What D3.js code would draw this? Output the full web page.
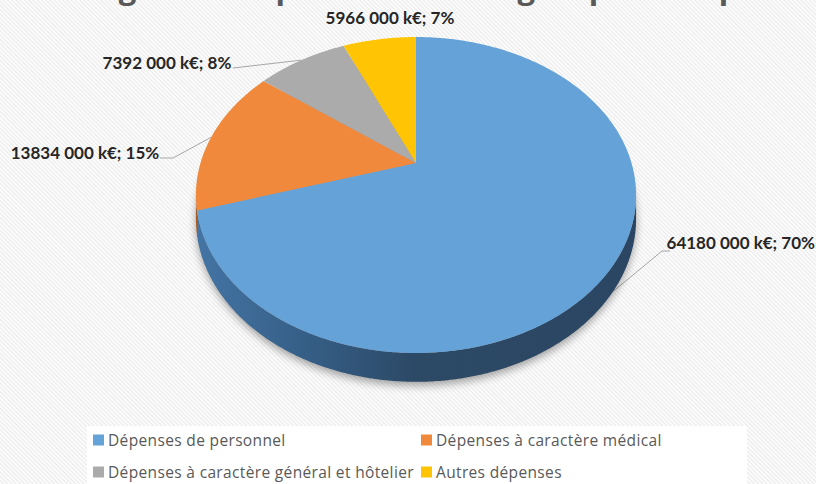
<!DOCTYPE html>
<html>
<head>
<meta charset="utf-8">
<script src="https://cdn.jsdelivr.net/npm/d3@7"></script>
<style>
  html, body { margin: 0; padding: 0; background: #fff; }
  svg { display: block; }
</style>
</head>
<body>
<div id="chart"></div>
<script>
const categories = [
  "Dépenses de personnel",
  "Dépenses à caractère médical",
  "Dépenses à caractère général et hôtelier",
  "Autres dépenses",
];
const values = [64180000, 13834000, 7392000, 5966000];
const colors = ["#65a2d7", "#f0893b", "#ababab", "#ffc404"];
const sideColors = ["#2e4d6c", "#a65a22", "#777777", "#b38a00"];
const title = "Budget des dépenses selon le groupe de dépenses";

const width = 816, height = 484;
// projected pie: centre, radii, perspective and thickness
const cx = 416, cy = 163, A = 215.5, B = 151.5, P = 0.2026, DEPTH = 23;

const svg = d3.select("#chart").append("svg")
  .attr("width", width).attr("height", height)
  .attr("viewBox", `0 0 ${width} ${height}`);

const defs = svg.append("defs");
const pat = defs.append("pattern")
  .attr("id", "stripes").attr("patternUnits", "userSpaceOnUse")
  .attr("width", 6).attr("height", 3)
  .attr("patternTransform", "rotate(45)");
pat.append("rect").attr("width", 6).attr("height", 3).attr("fill", "#ffffff");
pat.append("rect").attr("width", 6).attr("height", 1.4).attr("fill", "#ebebeb");

defs.append("filter").attr("id", "blur")
  .attr("x", "-20%").attr("y", "-20%").attr("width", "140%").attr("height", "140%")
  .append("feGaussianBlur").attr("stdDeviation", 4);

const sideGrad = defs.append("linearGradient")
  .attr("id", "sideGrad").attr("gradientUnits", "userSpaceOnUse")
  .attr("x1", cx - A * 1.05).attr("x2", cx + A * 1.05).attr("y1", 0).attr("y2", 0);
sideGrad.selectAll("stop")
  .data([[0, "#4576a6"], [0.25, "#365f87"], [0.5, "#2c4966"], [1, "#2b4662"]])
  .join("stop")
  .attr("offset", (d) => d[0]).attr("stop-color", (d) => d[1]);

svg.append("rect").attr("width", width).attr("height", height).attr("fill", "url(#stripes)");

// title (cut by the top edge, as in the picture)
svg.append("text")
  .attr("x", 58).attr("y", -1.5)
  .attr("font-family", "Open Sans, sans-serif").attr("font-size", 31).attr("font-weight", "bold")
  .attr("fill", "#595959")
  .text(title);

function proj(a, dz = 0) {
  const s = Math.sin(a), c = Math.cos(a);
  const f = 1 / (1 + P * c);
  return [cx + A * s * f, cy - B * c * f + dz * f];
}
function sample(a0, a1, dz = 0) {
  const n = Math.max(2, Math.ceil(Math.abs(a1 - a0) / 0.01));
  return d3.range(n + 1).map((i) => proj(a0 + (a1 - a0) * i / n, dz));
}

const pie = d3.pie().sort(null).value((d) => d);
const arcs = pie(values);
const total = d3.sum(values);
const line = d3.line();

function fmt(v) {
  const pct = Math.round(v / total * 100);
  return `${Math.floor(v / 1000)} ${String(v % 1000).padStart(3, "0")} k€; ${pct}%`;
}

// leader lines (drawn under the pie)
const labelPos = [
  { x: 815, y: 249, anchor: "end", elbow: [[670, 251], [662, 251]], dz: DEPTH },
  { x: 85, y: 159, anchor: "middle", elbow: [[160, 158], [173, 158]], dz: 0 },
  { x: 167, y: 69, anchor: "middle", elbow: [[233, 68]], dz: 0 },
  { x: 390, y: 24, anchor: "middle", elbow: null, dz: 0 },
];
svg.append("g").selectAll("path")
  .data(arcs.filter((d, i) => labelPos[i].elbow))
  .join("path")
  .attr("fill", "none").attr("stroke", "#a6a6a6").attr("stroke-width", 1)
  .attr("d", (d) => {
    const lp = labelPos[d.index];
    const mid = (d.startAngle + d.endAngle) / 2;
    return line([...lp.elbow, proj(mid, lp.dz)]);
  });

// shadow
svg.append("path")
  .attr("d", line(sample(0, 2 * Math.PI, DEPTH + 3)) + "Z")
  .attr("fill", "#000").attr("opacity", 0.35)
  .attr("filter", "url(#blur)");

// sides
const aMin = Math.acos(-P), aMax = 2 * Math.PI - Math.acos(-P);
svg.append("g").selectAll("path")
  .data(arcs.filter((d) => Math.max(d.startAngle, aMin) < Math.min(d.endAngle, aMax)))
  .join("path")
  .attr("fill", (d) => d.index === 0 ? "url(#sideGrad)" : sideColors[d.index])
  .attr("d", (d) => {
    const a0 = Math.max(d.startAngle, aMin), a1 = Math.min(d.endAngle, aMax);
    return line([...sample(a0, a1, 0), ...sample(a1, a0, DEPTH)]) + "Z";
  });

// top faces
svg.append("g").selectAll("path")
  .data(arcs)
  .join("path")
  .attr("fill", (d) => colors[d.index])
  .attr("d", (d) => line([[cx, cy], ...sample(d.startAngle, d.endAngle, 0)]) + "Z");

// data labels
svg.append("g").selectAll("text")
  .data(arcs)
  .join("text")
  .attr("x", (d) => labelPos[d.index].x)
  .attr("y", (d) => labelPos[d.index].y)
  .attr("text-anchor", (d) => labelPos[d.index].anchor)
  .attr("font-family", "Lato, sans-serif").attr("font-size", 17).attr("font-weight", "bold")
  .attr("fill", "#262626")
  .text((d) => fmt(d.data));

// legend
const legend = svg.append("g");
legend.append("rect")
  .attr("x", 87).attr("y", 426).attr("width", 660).attr("height", 60)
  .attr("fill", "#ffffff");
const legendX = [93, 421], legendY = [440, 472];
const item = legend.selectAll("g.item")
  .data(categories)
  .join("g").attr("class", "item")
  .attr("transform", (d, i) => `translate(${legendX[i % 2]},${legendY[Math.floor(i / 2)]})`);
item.append("rect")
  .attr("x", 0).attr("y", -5.5).attr("width", 11).attr("height", 11)
  .attr("fill", (d, i) => colors[i]);
item.append("text")
  .attr("x", 15).attr("y", 5.5)
  .attr("font-family", "Open Sans, sans-serif").attr("font-size", 15.5)
  .attr("letter-spacing", 0.35)
  .attr("fill", "#595959")
  .text((d) => d);
</script>
</body>
</html>
